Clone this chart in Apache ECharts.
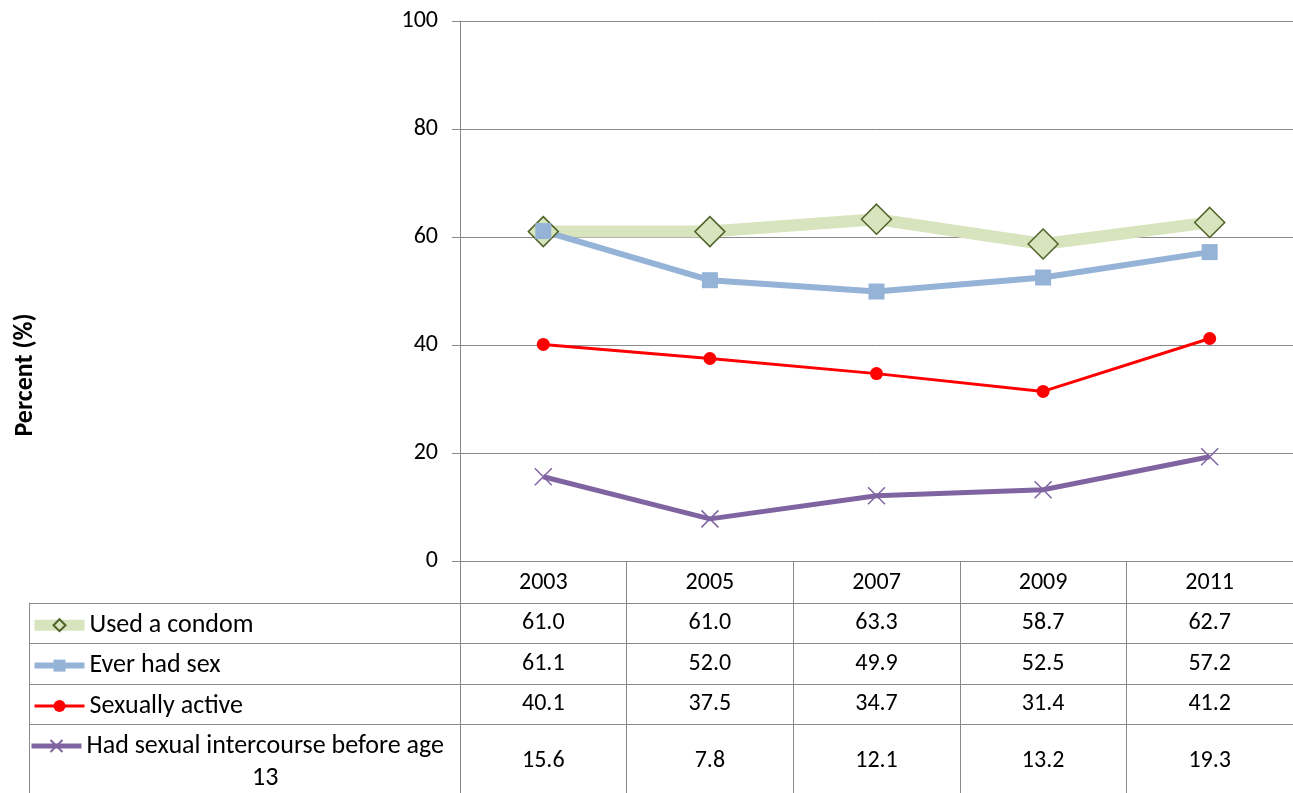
<!DOCTYPE html>
<html>
<head>
<meta charset="utf-8">
<script src="https://cdn.jsdelivr.net/npm/echarts@6/dist/echarts.min.js"></script>
<style>
  html, body { margin: 0; padding: 0; background: #fff; }
  #chart { width: 1293px; height: 793px; }
</style>
</head>
<body>
<div id="chart"></div>
<script>
// ---- Data ----
const years = ['2003', '2005', '2007', '2009', '2011'];
const usedCondom = [61.0, 61.0, 63.3, 58.7, 62.7];
const everHadSex = [61.1, 52.0, 49.9, 52.5, 57.2];
const sexuallyActive = [40.1, 37.5, 34.7, 31.4, 41.2];
const before13 = [15.6, 7.8, 12.1, 13.2, 19.3];
const seriesNames = ['Used a condom', 'Ever had sex', 'Sexually active', 'Had sexual intercourse before age 13'];
const yTicks = [0, 20, 40, 60, 80, 100];
const yAxisTitle = 'Percent (%)';

// ---- Styling ----
const FONT = 'Carlito, Lato, "Open Sans", sans-serif';
const FS = 26;      // words
const FSN = 24;     // numbers
const GRAY = '#8a8a8a';
const lineWidths = [11, 6, 3, 5];

const chart = echarts.init(document.getElementById('chart'), null, { renderer: 'canvas' });

const lastName = seriesNames[3];
const splitAt = lastName.lastIndexOf(' ');

const option = {
  animation: false,
  backgroundColor: '#ffffff',
  textStyle: { fontFamily: FONT },
  grid: [
    { left: 460, right: -5, top: 21, bottom: 232, containLabel: false },
    { left: 29, right: -5, top: 603, bottom: 0, containLabel: false }
  ],
  legend: [
    {
      data: seriesNames.slice(0, 3).map(function (n, i) {
        return { name: n, lineStyle: { width: lineWidths[i] } };
      }),
      orient: 'vertical',
      left: 29,
      top: 605,
      padding: 0,
      itemGap: 0,
      itemWidth: 50,
      itemHeight: 15,
      selectedMode: false,
      textStyle: { fontFamily: FONT, fontSize: FS, color: '#000', lineHeight: 40.4 }
    },
    {
      data: [{ name: lastName, lineStyle: { width: lineWidths[3] } }],
      orient: 'vertical',
      left: 29,
      top: 701,
      padding: 0,
      itemWidth: 50,
      itemHeight: 15,
      selectedMode: false,
      formatter: function (name) {
        return '{b| }\n{a|' + name.slice(0, splitAt) + '}\n{b|' + name.slice(splitAt + 1) + '}';
      },
      textStyle: {
        fontFamily: FONT, fontSize: FS, color: '#000',
        rich: {
          a: { fontFamily: FONT, fontSize: FS, color: '#000', lineHeight: 32 },
          b: { fontFamily: FONT, fontSize: FS, color: '#000', lineHeight: 32, align: 'center' }
        }
      }
    }
  ],
  xAxis: [
    {
      type: 'category',
      gridIndex: 0,
      data: years,
      boundaryGap: true,
      axisLine: { show: true, lineStyle: { color: GRAY, width: 1 } },
      axisTick: { show: true, length: 232, interval: 0, lineStyle: { color: GRAY, width: 1 } },
      splitLine: { show: false },
      axisLabel: {
        interval: 0,
        margin: 1,
        fontFamily: FONT,
        fontSize: FSN,
        color: '#000',
        formatter: function (value, index) {
          return '{y|' + value + '}\n' +
            '{v|' + usedCondom[index].toFixed(1) + '}\n' +
            '{v|' + everHadSex[index].toFixed(1) + '}\n' +
            '{v|' + sexuallyActive[index].toFixed(1) + '}\n' +
            '{w|' + before13[index].toFixed(1) + '}';
        },
        rich: {
          y: { fontFamily: FONT, fontSize: FSN, color: '#000', lineHeight: 41 },
          v: { fontFamily: FONT, fontSize: FSN, color: '#000', lineHeight: 40.5 },
          w: { fontFamily: FONT, fontSize: FSN, color: '#000', lineHeight: 72 }
        }
      }
    },
    {
      type: 'value',
      gridIndex: 1,
      min: 0,
      max: 1,
      show: false
    }
  ],
  yAxis: [
    {
      type: 'value',
      gridIndex: 0,
      min: yTicks[0],
      max: yTicks[yTicks.length - 1],
      interval: yTicks[1] - yTicks[0],
      axisLine: { show: true, lineStyle: { color: GRAY, width: 1 } },
      axisTick: { show: true, length: 8, lineStyle: { color: GRAY, width: 1 } },
      splitLine: { show: true, lineStyle: { color: GRAY, width: 1 } },
      axisLabel: { margin: 22, fontFamily: FONT, fontSize: FSN, color: '#000' }
    },
    {
      type: 'value',
      gridIndex: 1,
      inverse: true,
      min: 0,
      max: 4.7,
      interval: 1,
      axisLine: { show: true, lineStyle: { color: GRAY, width: 1 } },
      axisTick: { show: false },
      axisLabel: { show: false },
      splitLine: {
        show: true,
        lineStyle: { color: [GRAY, GRAY, GRAY, GRAY, 'rgba(0,0,0,0)', GRAY], width: 1 }
      }
    }
  ],
  graphic: [
    {
      type: 'text',
      x: 25,
      y: 375,
      rotation: Math.PI / 2,
      style: {
        text: yAxisTitle,
        fontFamily: FONT,
        fontSize: FS,
        fontWeight: 'bold',
        fill: '#000',
        align: 'center',
        verticalAlign: 'middle'
      }
    }
  ],
  series: [
    {
      name: seriesNames[0],
      type: 'line',
      data: usedCondom,
      symbol: 'diamond',
      symbolSize: 30,
      lineStyle: { color: '#d7e4bd', width: 12 },
      itemStyle: { color: '#d7e4bd', borderColor: '#4f6228', borderWidth: 1.5 },
      emphasis: { disabled: true }
    },
    {
      name: seriesNames[1],
      type: 'line',
      data: everHadSex,
      symbol: 'rect',
      symbolSize: 16,
      lineStyle: { color: '#95b3d7', width: 6 },
      itemStyle: { color: '#95b3d7', borderWidth: 0 },
      emphasis: { disabled: true }
    },
    {
      name: seriesNames[2],
      type: 'line',
      data: sexuallyActive,
      symbol: 'circle',
      symbolSize: 13,
      lineStyle: { color: '#ff0000', width: 3 },
      itemStyle: { color: '#ff0000', borderWidth: 0 },
      emphasis: { disabled: true }
    },
    {
      name: seriesNames[3],
      type: 'line',
      data: before13,
      symbol: 'path://M0,0L10,10M10,0L0,10',
      symbolSize: 17,
      lineStyle: { color: '#8064a2', width: 5 },
      itemStyle: { color: '#8064a2', borderColor: '#8064a2', borderWidth: 1.5 },
      emphasis: { disabled: true }
    }
  ]
};

chart.setOption(option);
</script>
</body>
</html>
